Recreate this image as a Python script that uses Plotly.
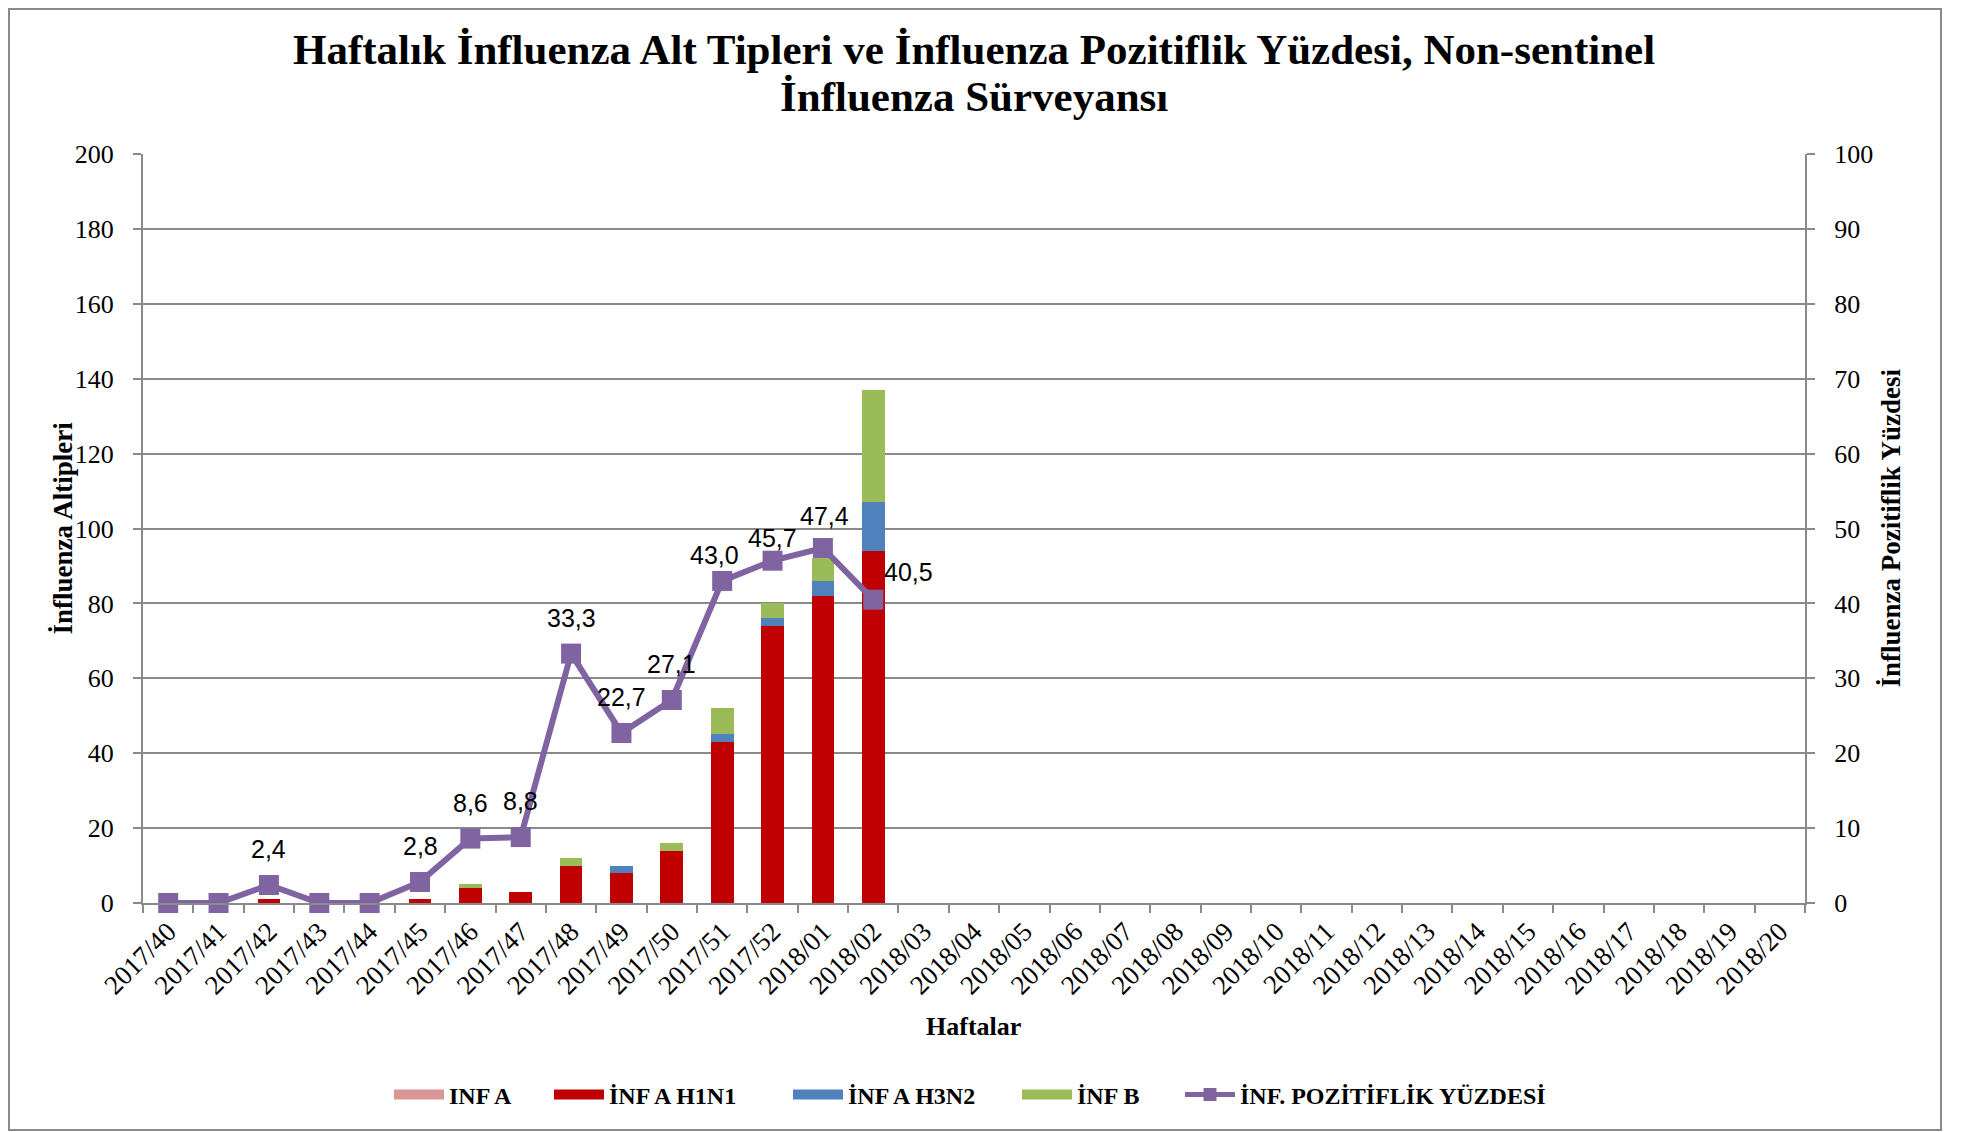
import plotly.graph_objects as go

weeks = [f"2017/{w}" for w in range(40, 53)] + [f"2018/{w:02d}" for w in range(1, 21)]

inf_a = [0, 0, 0, 0, 0, 0, 0, 0, 0, 0, 0, 0, 0, 0, 0] + [None] * 18
inf_a_h1n1 = [0, 0, 1, 0, 0, 1, 4, 3, 10, 8, 14, 43, 74, 82, 94] + [None] * 18
inf_a_h3n2 = [0, 0, 0, 0, 0, 0, 0, 0, 0, 2, 0, 2, 2, 4, 13] + [None] * 18
inf_b = [0, 0, 0, 0, 0, 0, 1, 0, 2, 0, 2, 7, 4, 6, 30] + [None] * 18
positivity = [0, 0, 2.4, 0, 0, 2.8, 8.6, 8.8, 33.3, 22.7, 27.1, 43.0, 45.7, 47.4, 40.5] + [None] * 18

series_names = ["INF A", "İNF A H1N1", "İNF A H3N2", "İNF B", "İNF. POZİTİFLİK YÜZDESİ"]

# label offsets (style only), in pixels
label_shift = {"2017/51": (-8, 26), "2017/52": (0, 23), "2018/01": (2, 32), "2018/02": (35, 28)}
DEFAULT_SHIFT = (0, 36)

SERIF = "Liberation Serif, Times New Roman, serif"
SANS = "Liberation Sans, Arial, sans-serif"
GRID = "#8a8a8a"
COLORS = ["#D99694", "#C00000", "#4F81BD", "#9BBB59", "#8064A2"]

# Page offset: the browser body margin shifts the figure by 8px
OFF = 8
L, R, T, B = 143 - OFF, 1966 - (1805 - OFF), 154 - OFF, 1132 - (903 - OFF)
PW = 1966 - L - R
PH = 1132 - T - B


def px_x(page_x):
    return (page_x - OFF - L) / PW


def px_y(page_y):
    return ((1132 - B) - (page_y - OFF)) / PH


fig = go.Figure()
bar_series = [inf_a, inf_a_h1n1, inf_a_h3n2, inf_b]
for name, vals, col in zip(series_names[:4], bar_series, COLORS[:4]):
    fig.add_trace(go.Bar(x=weeks, y=vals, name=name, showlegend=False,
                         marker=dict(color=col, line=dict(width=0))))

fig.add_trace(go.Scatter(
    x=weeks, y=positivity, name=series_names[4], yaxis="y2",
    mode="lines+markers", showlegend=False,
    line=dict(color=COLORS[4], width=6),
    marker=dict(symbol="square", size=20, color=COLORS[4]),
    cliponaxis=False,
))

# Legend entries (Excel-style wide swatches), each in its own legend box
legend_left = [389, 549, 788, 1017, 1180]
legend_ids = ["legend", "legend2", "legend3", "legend4", "legend5"]
for i, (name, col) in enumerate(zip(series_names, COLORS)):
    if i < 4:
        fig.add_trace(go.Scatter(x=[None], y=[None], mode="lines", name=f"<b>{name}</b>",
                                 line=dict(color=col, width=13), legend=legend_ids[i],
                                 showlegend=True, hoverinfo="skip"))
    else:
        fig.add_trace(go.Scatter(x=[None], y=[None], mode="lines+markers", name=f"<b>{name}</b>",
                                 line=dict(color=col, width=5), marker=dict(symbol="square", size=13, color=col),
                                 legend=legend_ids[i], showlegend=True, hoverinfo="skip", yaxis="y2"))

for w, v in zip(weeks, positivity):
    if v is None or v == 0:
        continue
    dx, dy = label_shift.get(w, DEFAULT_SHIFT)
    fig.add_annotation(x=w, y=v, xref="x", yref="y2", text=f"{v:.1f}".replace(".", ","),
                       showarrow=False, xshift=dx, yshift=dy,
                       font=dict(family=SANS, size=25, color="#000000"))

legend_common = dict(orientation="h", xanchor="left", y=px_y(1095), yanchor="middle",
                     font=dict(family=SERIF, size=24, color="#000000"),
                     itemwidth=50, bgcolor="rgba(0,0,0,0)", borderwidth=0)

fig.update_layout(
    width=1966, height=1132,
    barmode="stack", bargap=0.55,
    paper_bgcolor="white", plot_bgcolor="white",
    margin=dict(l=L, r=R, t=T, b=B),
    font=dict(family=SERIF, color="#000000"),
    xaxis=dict(
        type="category", range=[-0.5, len(weeks) - 0.5], autorange=False,
        tickangle=-45, tickfont=dict(family=SERIF, size=27),
        showline=True, linecolor=GRID, linewidth=2, ticks="outside", tickson="boundaries",
        ticklen=8, tickcolor=GRID, tickwidth=1.5, showgrid=False,
    ),
    yaxis=dict(
        range=[0, 200], dtick=20, tickfont=dict(family=SERIF, size=26),
        showline=True, linecolor=GRID, linewidth=2, ticks="outside", ticklen=8,
        tickcolor=GRID, tickwidth=1.5, showgrid=True, gridcolor=GRID, gridwidth=1.5,
        zeroline=False, ticklabelstandoff=14,
    ),
    yaxis2=dict(
        range=[0, 100], dtick=10, overlaying="y", side="right",
        tickfont=dict(family=SERIF, size=26),
        showline=True, linecolor=GRID, linewidth=2, ticks="outside", ticklen=8,
        tickcolor=GRID, tickwidth=1.5, showgrid=False, zeroline=False, ticklabelstandoff=14,
    ),
    legend=dict(x=px_x(legend_left[0]), **legend_common),
    legend2=dict(x=px_x(legend_left[1]), **legend_common),
    legend3=dict(x=px_x(legend_left[2]), **legend_common),
    legend4=dict(x=px_x(legend_left[3]), **legend_common),
    legend5=dict(x=px_x(legend_left[4]), **legend_common),
    showlegend=True,
)

fig.add_annotation(text="<b>Haftalık İnfluenza Alt Tipleri ve İnfluenza Pozitiflik Yüzdesi, Non-sentinel</b>",
                   xref="paper", yref="paper", x=px_x(974), y=px_y(50), showarrow=False,
                   font=dict(family=SERIF, size=43), xanchor="center", yanchor="middle")
fig.add_annotation(text="<b>İnfluenza Sürveyansı</b>",
                   xref="paper", yref="paper", x=px_x(974), y=px_y(97), showarrow=False,
                   font=dict(family=SERIF, size=43), xanchor="center", yanchor="middle")
fig.add_annotation(text="<b>İnfluenza Altipleri</b>", xref="paper", yref="paper",
                   x=px_x(62), y=0.5, textangle=-90, showarrow=False,
                   font=dict(family=SERIF, size=27), xanchor="center", yanchor="middle")
fig.add_annotation(text="<b>İnfluenza Pozitiflik Yüzdesi</b>", xref="paper", yref="paper",
                   x=px_x(1890), y=0.5, textangle=-90, showarrow=False,
                   font=dict(family=SERIF, size=27), xanchor="center", yanchor="middle")
fig.add_annotation(text="<b>Haftalar</b>", xref="paper", yref="paper",
                   x=px_x(973), y=px_y(1026), showarrow=False,
                   font=dict(family=SERIF, size=26), xanchor="center", yanchor="middle")

fig.add_shape(type="rect", xref="paper", yref="paper",
              x0=px_x(9), x1=px_x(1941),
              y0=px_y(1130), y1=px_y(9),
              line=dict(color=GRID, width=2), fillcolor="rgba(0,0,0,0)", layer="below")

fig.write_html("out.html")
